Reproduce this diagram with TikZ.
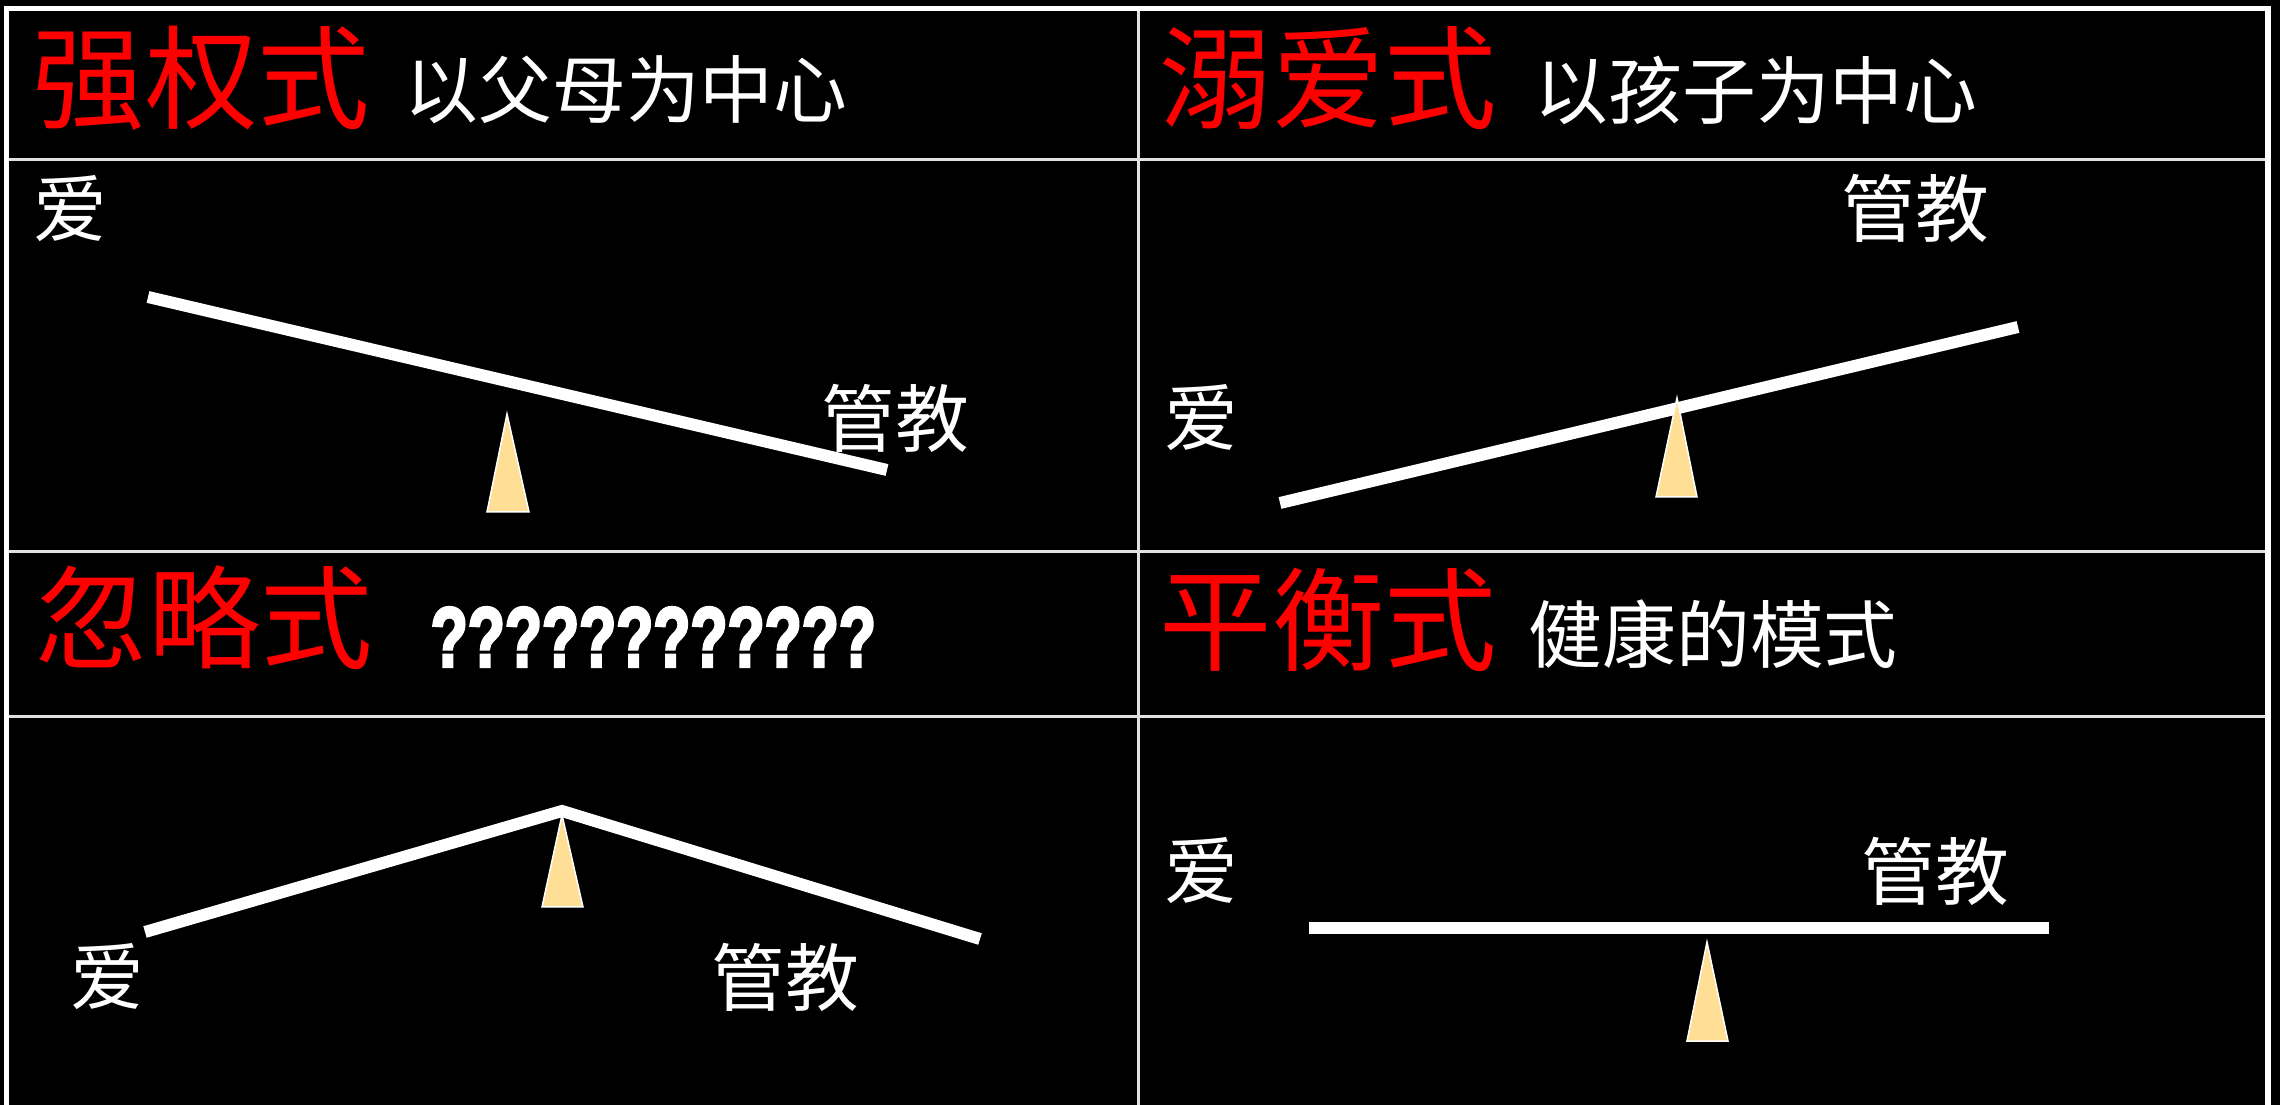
\documentclass[tikz,border=0pt]{standalone}
\usepackage{fontspec}
\setmainfont{Liberation Sans}
\newfontfamily\cjk{Noto Sans CJK SC}
\newfontfamily\qmfont{Liberation Sans}[UprightFont=* Bold, FakeBold=4]
\definecolor{pivotc}{RGB}{255,222,150}
\definecolor{gridc}{RGB}{225,225,225}
\begin{document}
\begin{tikzpicture}[x=0.1mm,y=-0.1mm,
  ttl/.style={text=red, font=\cjk\fontsize{32}{32}\selectfont, inner sep=0pt, anchor=west},
  sub/.style={text=white, font=\cjk\fontsize{21}{21}\selectfont, inner sep=0pt, anchor=west},
  lbl/.style={text=white, font=\cjk\fontsize{21}{21}\selectfont, inner sep=0pt},
  qm/.style={text=white, font=\qmfont\fontsize{24}{24}\selectfont, inner sep=0pt, anchor=west},
  beam/.style={draw=white, line width=1.2mm, line join=miter},
  pivot/.style={fill=pivotc, draw=white, line width=0.15mm},
  gridline/.style={draw=gridc, line width=0.3mm},
  frame/.style={draw=white, line width=0.55mm}]
\fill[black] (0,0) rectangle (2280,1105);
\useasboundingbox (0,0) rectangle (2280,1105);
% grid
\draw[gridline] (1138,8) -- (1138,1105);
\draw[gridline] (8,160) -- (2268,160);
\draw[gridline] (8,552) -- (2268,552);
\draw[gridline] (8,717) -- (2268,717);
\draw[frame] (6.5,1105) -- (6.5,8.5) -- (2268,8.5) -- (2268,1105);
% titles
\node[ttl] (t1) at (32,78) {强权式};
\node[sub] (s1) at (404,90) {以父母为中心};
\node[ttl] (t2) at (1159,78) {溺爱式};
\node[sub] (s2) at (1534,90) {以孩子为中心};
\node[ttl] (t3) at (35,618) {忽略式};
\node[qm] (s3) at (430,637) {\scalebox{0.72}[1]{????????????}};
\node[ttl] (t4) at (1159,620) {平衡式};
\node[sub] (s4) at (1528,634) {健康的模式};
% panel 1
\node[lbl] (a1) at (70,209) {爱};
\node[lbl] (g1) at (895,418) {管教};
\coordinate (b1l) at (148,297);
\coordinate (b1r) at (887,470);
\draw[beam] (b1l) -- (b1r);
\draw[pivot] (507,414) -- (529,512) -- (487,512) -- cycle;
% panel 2
\node[lbl] (a2) at (1201,418) {爱};
\node[lbl] (g2) at (1915,208) {管教};
\coordinate (b2l) at (1280,503);
\coordinate (b2r) at (2018,327);
\draw[beam] (b2l) -- (b2r);
\draw[pivot] (1677,398) -- (1697,497) -- (1656,497) -- cycle;
% panel 3
\node[lbl] (a3) at (107,977) {爱};
\node[lbl] (g3) at (785,977) {管教};
\coordinate (b3l) at (145,932);
\coordinate (b3m) at (562,811);
\coordinate (b3r) at (980,939);
\draw[beam] (b3l) -- (b3m) -- (b3r);
\draw[pivot] (562,815) -- (583,907) -- (542,907) -- cycle;
% panel 4
\node[lbl] (a4) at (1201,871) {爱};
\node[lbl] (g4) at (1935,871) {管教};
\coordinate (b4l) at (1309,928);
\coordinate (b4r) at (2049,928);
\draw[beam] (b4l) -- (b4r);
\draw[pivot] (1707,942) -- (1728,1041) -- (1687,1041) -- cycle;
\end{tikzpicture}
\end{document}
